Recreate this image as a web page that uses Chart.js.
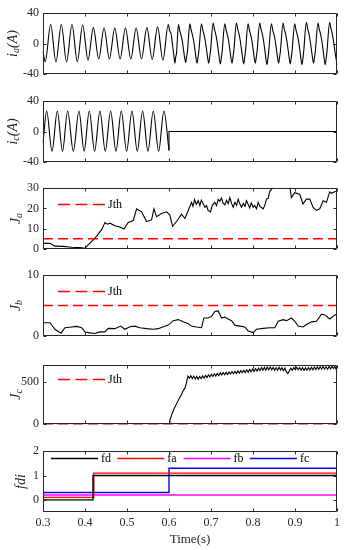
<!DOCTYPE html>
<html>
<head>
<meta charset="utf-8">
<script src="https://cdn.jsdelivr.net/npm/chart.js@4.4.1/dist/chart.umd.min.js"></script>
<style>
  html, body { margin: 0; padding: 0; background: #fff; }
  body { position: relative; width: 349px; height: 550px; overflow: hidden; }
  .panel { position: absolute; left: 0; }
</style>
</head>
<body>
<script>
// ---- values ----
const xTicks = [0.3, 0.4, 0.5, 0.6, 0.7, 0.8, 0.9, 1.0];
const iaTicks = [-40, 0, 40];
const icTicks = [-40, 0, 40];
const jaTicks = [0, 10, 20, 30];
const jbTicks = [0, 10];
const jcTicks = [0, 500];
const fdiTicks = [0, 1, 2];

const jThA = 5, jThB = 5, jThC = 0;

// [time (s), current (A)]
const iaSeries = [
  [0.300,-10],[0.3053,-24],[0.3182,25],[0.3308,-24.5],[0.3435,25],[0.3562,-24.5],[0.3690,25],
  [0.3817,-24],[0.3944,24.5],[0.4072,-22],[0.4199,21],[0.4326,-20.5],[0.4454,20.5],[0.4581,-20.5],
  [0.4709,20.5],[0.4836,-20.5],[0.4963,20.5],[0.5091,-20.5],[0.5218,20.5],[0.5345,-20.5],[0.5473,21],
  [0.5600,-21],[0.5728,22],[0.5855,-22],[0.5982,25],
  [0.6020,16],[0.6045,14],[0.6080,0],[0.6115,-15],[0.6140,-26],[0.6160,-18],[0.6180,-12],
  [0.6225,25],[0.6255,17],[0.6280,12],[0.6315,4],[0.6355,-12],[0.6397,-25],[0.6420,-17],[0.6440,-10],
  [0.6496,26],[0.6526,18],[0.6551,13],[0.6586,4],[0.6626,-12],[0.6668,-26],[0.6691,-18],[0.6711,-10],
  [0.6773,26],[0.6803,18],[0.6828,13],[0.6863,4],[0.6903,-12],[0.6945,-26],[0.6968,-18],[0.6988,-10],
  [0.7051,27],[0.7081,19],[0.7106,14],[0.7141,4],[0.7181,-12],[0.7223,-27],[0.7246,-19],[0.7266,-10],
  [0.7328,26],[0.7358,18],[0.7383,13],[0.7418,4],[0.7458,-12],[0.7500,-26],[0.7523,-18],[0.7543,-10],
  [0.7606,27],[0.7636,19],[0.7661,14],[0.7696,4],[0.7736,-12],[0.7778,-27],[0.7801,-19],[0.7821,-10],
  [0.7883,26],[0.7913,18],[0.7938,13],[0.7973,4],[0.8013,-12],[0.8055,-26],[0.8078,-18],[0.8098,-10],
  [0.8160,27],[0.8190,19],[0.8215,14],[0.8250,4],[0.8290,-12],[0.8332,-28],[0.8355,-20],[0.8375,-10],
  [0.8438,26],[0.8468,18],[0.8493,13],[0.8528,4],[0.8568,-12],[0.8610,-26],[0.8633,-18],[0.8653,-10],
  [0.8715,27],[0.8745,19],[0.8770,14],[0.8805,4],[0.8845,-12],[0.8887,-27],[0.8910,-19],[0.8930,-10],
  [0.8993,26],[0.9023,18],[0.9048,13],[0.9083,4],[0.9123,-12],[0.9165,-28],[0.9188,-20],[0.9208,-10],
  [0.9270,28],[0.9300,20],[0.9325,15],[0.9360,4],[0.9400,-12],[0.9442,-26],[0.9465,-18],[0.9485,-10],
  [0.9547,27],[0.9577,19],[0.9602,14],[0.9637,4],[0.9677,-12],[0.9719,-28],[0.9742,-20],[0.9762,-10],
  [0.9825,28],[0.9855,20],[0.9880,15],[0.9915,4],[0.9955,-12],[1.0,-28]
];

const icWave = [
  [0.3,-15],[0.3087,27],[0.3214,-26],[0.3341,27],[0.3464,-26],[0.3587,27],[0.3722,-26],[0.3856,27],
  [0.3979,-26],[0.4102,27],[0.4229,-26],[0.4356,27],[0.4483,-26],[0.4610,27],[0.4737,-26],[0.4864,27],
  [0.4991,-26],[0.5118,27],[0.5245,-26],[0.5372,27],[0.5499,-26],[0.5626,27],[0.5753,-26],[0.5879,27],
  [0.6,-25]
];
const icOff = [[0.6,-25],[0.6,0],[1.0,0]];

const jaSeries = [
  [0.3,2.7],[0.3167,2.7],[0.3285,1.3],[0.3484,1.2],[0.3682,0.8],[0.388,0.6],[0.4,0.3],[0.4055,1.6],
  [0.4158,3.5],[0.4277,6.3],[0.4396,9.5],[0.4475,13],[0.4535,12.2],[0.4594,12.7],[0.4713,11.4],
  [0.4832,10.8],[0.4927,9.8],[0.503,13],[0.5149,14],[0.5228,19.8],[0.5347,18.3],[0.5466,13.5],
  [0.5585,14.3],[0.5641,19.8],[0.5704,15.9],[0.5823,17.5],[0.5942,18.3],[0.6021,16.7],[0.6085,11.1],
  [0.618,13.5],[0.6299,17.1],[0.6378,15],[0.6458,19],[0.6537,23],[0.657,21],[0.661,24.3],[0.665,22],
  [0.6695,23.8],[0.6735,21.5],[0.677,24.1],[0.681,22.5],[0.6855,20.5],[0.6894,21.4],[0.693,19],
  [0.6989,18.3],[0.703,21.5],[0.7092,23],[0.713,21.3],[0.7172,24.5],[0.7211,23.5],[0.725,25.2],
  [0.729,22.5],[0.733,21.8],[0.737,24],[0.741,22.3],[0.7449,25.4],[0.749,22.5],[0.7528,20.6],
  [0.757,23],[0.761,21.5],[0.7647,24.6],[0.769,22],[0.7728,20.6],[0.777,22.5],[0.781,21],[0.7845,23.8],
  [0.7885,22],[0.792,20.2],[0.796,22.8],[0.8004,20.6],[0.804,21.5],[0.8083,19.8],[0.8123,23],
  [0.8162,21],[0.8242,19.8],[0.8281,21.5],[0.8321,24.6],[0.836,25],[0.84,28.6],[0.8439,29.4],
  [0.848,32],[0.87,34],[0.8874,31],[0.8914,25.4],[0.8993,27.8],[0.9112,27],[0.919,22.2],[0.927,24.6],
  [0.935,24.6],[0.943,20.6],[0.951,19],[0.959,19.8],[0.967,23.8],[0.975,23],[0.9825,28.2],
  [0.9865,27.5],[0.9943,28.2],[1.0,28.5]
];

const jbSeries = [
  [0.3,2.15],[0.3167,2.15],[0.3285,1.07],[0.3428,0.43],[0.3523,1.34],[0.3682,1.45],[0.3801,1.55],
  [0.392,1.34],[0.4,0.64],[0.4118,0.48],[0.4237,0.37],[0.4356,0.64],[0.4475,0.64],[0.4554,1.23],
  [0.4713,1.18],[0.4848,1.6],[0.4951,1.07],[0.507,1.5],[0.5189,1.6],[0.5308,1.34],[0.5466,1.18],
  [0.5625,1.07],[0.5744,1.18],[0.5863,1.5],[0.5982,1.76],[0.6101,2.5],[0.622,2.67],[0.6339,2.3],
  [0.6458,1.98],[0.6537,1.6],[0.6656,1.45],[0.6775,1.34],[0.683,2.94],[0.6933,2.94],[0.7013,3.2],
  [0.7092,4.0],[0.7171,4.1],[0.7251,2.94],[0.733,3.1],[0.7409,2.78],[0.7489,2.5],[0.7568,1.76],
  [0.7687,1.6],[0.7806,1.45],[0.7885,0.8],[0.8004,0.53],[0.8083,1.07],[0.8242,1.23],[0.84,1.34],
  [0.8519,1.34],[0.8599,2.4],[0.8718,2.67],[0.8797,2.5],[0.8916,2.94],[0.8995,2.4],[0.9074,1.6],
  [0.9193,1.45],[0.9273,1.87],[0.9392,2.3],[0.9511,2.4],[0.963,3.57],[0.9709,3.45],[0.9828,2.78],
  [0.9947,3.45],[1.0,3.57]
];

const jcSeries = [
  [0.3,0],[0.6,0],[0.602,40],[0.608,130],[0.613,190],[0.618,241],[0.624,300],[0.630,352],[0.634,400],
  [0.638,426],[0.642,500],[0.645,570],[0.6485,545],[0.652,575],[0.6555,540],[0.659,570],[0.6625,535],
  [0.666,565],[0.6695,532],[0.673,565],[0.6765,538],[0.680,572],[0.6835,545],[0.687,580],[0.6905,552],
  [0.694,585],[0.6975,560],[0.701,592],[0.7045,565],[0.708,598],[0.7115,570],[0.715,602],[0.7185,575],
  [0.722,608],[0.7255,582],[0.729,612],[0.7325,585],[0.736,615],[0.7395,590],[0.743,620],[0.7465,595],
  [0.750,625],[0.7535,598],[0.757,628],[0.7605,600],[0.764,632],[0.7675,605],[0.771,636],[0.7745,610],
  [0.778,640],[0.7815,612],[0.785,645],[0.7885,615],[0.792,650],[0.7955,620],[0.799,655],[0.8025,625],
  [0.806,660],[0.8095,630],[0.813,665],[0.8165,635],[0.820,672],[0.8235,640],[0.827,675],[0.8305,640],
  [0.834,678],[0.8375,645],[0.841,680],[0.8445,645],[0.848,675],[0.8515,640],[0.855,672],[0.8585,640],
  [0.862,675],[0.8655,642],[0.869,670],[0.8725,635],[0.876,665],[0.8795,620],[0.883,600],[0.8865,635],
  [0.890,665],[0.8935,640],[0.897,672],[0.9005,645],[0.904,675],[0.9075,645],[0.911,672],[0.9145,640],
  [0.918,670],[0.9215,638],[0.925,668],[0.9285,640],[0.932,672],[0.9355,642],[0.939,675],[0.9425,645],
  [0.946,678],[0.9495,648],[0.953,680],[0.9565,650],[0.960,682],[0.9635,652],[0.967,685],[0.9705,655],
  [0.974,682],[0.9775,650],[0.981,685],[0.9845,655],[0.988,688],[0.9915,660],[0.995,685],[1.0,625]
];

const fdSeries = [[0.3,0],[0.419,0],[0.419,1],[1.0,1]];
const faSeries = [[0.3,0.1],[0.421,0.1],[0.421,1.1],[1.0,1.1]];
const fbSeries = [[0.3,0.2],[1.0,0.2]];
const fcSeries = [[0.3,0.3],[0.6,0.3],[0.6,1.3],[1.0,1.3]];

// ---- helpers ----
Chart.defaults.font.family = "'Liberation Serif', 'Times New Roman', serif";
Chart.defaults.font.size = 12;
Chart.defaults.color = '#262626';

const SERIF = "'Liberation Serif', 'Times New Roman', serif";
const pts = arr => arr.map(p => ({x: p[0], y: p[1]}));
const flat = v => [[0.3, v], [1.0, v]];

function trace(data, smooth) {
  return { data: pts(data), borderColor: '#000', borderWidth: 1.1, pointRadius: 0,
           tension: 0, cubicInterpolationMode: smooth ? 'monotone' : 'default', clip: 0.5 };
}
function threshold(v) {
  return { label: 'Jth', data: pts(flat(v)), borderColor: '#ff0000', borderWidth: 1.5,
           borderDash: [10, 5], pointRadius: 0, clip: false };
}
function flag(label, data, color) {
  return { label: label, data: pts(data), borderColor: color, borderWidth: 1.4, pointRadius: 0, clip: false };
}

// box + inward ticks on all four sides, like a MATLAB axes
const matlabAxes = {
  id: 'matlabAxes',
  afterDraw(chart) {
    const p = chart.canvas.$panel;
    const {ctx, chartArea: a, scales} = chart;
    const L = Math.round(a.left) + 0.5, R = Math.round(a.right) - 0.5;
    const T = Math.round(a.top) + 0.5, B = Math.round(a.bottom) - 0.5;
    ctx.save();
    ctx.strokeStyle = '#262626';
    ctx.lineWidth = 1;
    ctx.beginPath();
    ctx.rect(L, T, R - L, B - T);
    xTicks.forEach(v => {
      const px = Math.round(scales.x.getPixelForValue(v)) + 0.5;
      ctx.moveTo(px, B); ctx.lineTo(px, B - 3);
      ctx.moveTo(px, T); ctx.lineTo(px, T + 3);
    });
    p.yTicks.forEach(v => {
      const py = Math.round(scales.y.getPixelForValue(v)) + 0.5;
      ctx.moveTo(L, py); ctx.lineTo(L + 3, py);
      ctx.moveTo(R, py); ctx.lineTo(R - 3, py);
    });
    ctx.stroke();
    ctx.restore();
  }
};

// legend drawn inside the plot area
const insideLegend = {
  id: 'insideLegend',
  afterDraw(chart) {
    const lg = chart.canvas.$panel.legend;
    if (!lg) return;
    const {ctx, chartArea: a} = chart;
    let k = 0;
    chart.data.datasets.forEach(ds => {
      if (!ds.label) return;
      const x0 = a.left + lg.x + k * (lg.step || 0);
      const y0 = Math.round(a.top + lg.y) + 0.5;
      ctx.save();
      ctx.strokeStyle = ds.borderColor;
      ctx.lineWidth = ds.borderWidth;
      ctx.setLineDash(ds.borderDash ? lg.dash : []);
      ctx.beginPath();
      ctx.moveTo(x0, y0);
      ctx.lineTo(x0 + lg.len, y0);
      ctx.stroke();
      ctx.setLineDash([]);
      ctx.fillStyle = '#000';
      ctx.font = lg.font + 'px ' + SERIF;
      ctx.textBaseline = 'middle';
      ctx.fillText(ds.label, x0 + lg.len + 3, y0 + 0.5);
      ctx.restore();
      k++;
    });
  }
};

// rotated y label with subscripts
const yLabel = {
  id: 'yLabel',
  afterDraw(chart) {
    const p = chart.canvas.$panel;
    const {ctx, chartArea: a} = chart;
    const main = 'italic 14px ' + SERIF, sub = 'italic 10px ' + SERIF;
    ctx.save();
    ctx.translate(p.yLabelX, (a.top + a.bottom) / 2);
    ctx.rotate(-Math.PI / 2);
    ctx.fillStyle = '#262626';
    ctx.textBaseline = 'middle';
    let w = 0;
    p.yLabel.forEach(part => { ctx.font = part[1] ? sub : main; w += ctx.measureText(part[0]).width; });
    let x = -w / 2;
    p.yLabel.forEach(part => {
      ctx.font = part[1] ? sub : main;
      ctx.fillText(part[0], x, part[1] ? 3 : 0);
      x += ctx.measureText(part[0]).width;
    });
    ctx.restore();
  }
};

function makePanel(p) {
  const padTop = 10, padBottom = p.xLabels ? 38 : 10;
  const h = (p.bottom - p.top) + padTop + padBottom;
  const wrap = document.createElement('div');
  wrap.className = 'panel';
  wrap.style.top = (p.top - padTop) + 'px';
  const cv = document.createElement('canvas');
  cv.width = 349; cv.height = h;
  cv.style.width = '349px'; cv.style.height = h + 'px';
  cv.$panel = p;
  wrap.appendChild(cv);
  document.body.appendChild(wrap);
  return new Chart(cv, {
    type: 'line',
    data: { datasets: p.datasets },
    plugins: [matlabAxes, insideLegend, yLabel],
    options: {
      responsive: false,
      animation: false,
      devicePixelRatio: 1,
      layout: { padding: { top: padTop, right: 12, bottom: p.xLabels ? 0 : padBottom, left: 0 } },
      scales: {
        x: {
          type: 'linear', min: 0.3, max: 1.0, display: !!p.xLabels,
          afterBuildTicks: s => { s.ticks = xTicks.map(v => ({value: v})); },
          afterFit: s => { s.height = p.xLabels ? padBottom : 0; },
          grid: { display: false, drawTicks: false },
          border: { display: false },
          ticks: { padding: 4, maxRotation: 0, autoSkip: false, font: { size: 12 },
                   callback: v => v === 1 ? '1' : v.toFixed(1) },
          title: { display: !!p.xLabels, text: 'Time(s)', font: { size: 13 }, padding: { top: 0, bottom: 3 } }
        },
        y: {
          min: p.yMin, max: p.yMax,
          afterBuildTicks: s => { s.ticks = p.yTicks.map(v => ({value: v})); },
          afterFit: s => { s.width = 43; },
          grid: { display: false, drawTicks: false },
          border: { display: false },
          ticks: { padding: 4, autoSkip: false, font: { size: 12 }, callback: v => String(v) }
        }
      },
      plugins: { legend: { display: false }, tooltip: { enabled: false } }
    }
  });
}

const jLegend = { x: 15, y: 16, len: 47, dash: [12, 5.5], font: 12 };

makePanel({ top: 12, bottom: 75, yMin: -40, yMax: 40, yTicks: iaTicks,
  yLabel: [['i', 0], ['a', 1], ['(A)', 0]], yLabelX: 13,
  datasets: [trace(iaSeries, true)] });

makePanel({ top: 100, bottom: 163, yMin: -40, yMax: 40, yTicks: icTicks,
  yLabel: [['i', 0], ['c', 1], ['(A)', 0]], yLabelX: 13,
  datasets: [trace(icWave, true), trace(icOff, false)] });

makePanel({ top: 187, bottom: 250, yMin: 0, yMax: 30, yTicks: jaTicks,
  yLabel: [['J', 0], ['a', 1]], yLabelX: 16, legend: jLegend,
  datasets: [threshold(jThA), trace(jaSeries, false)] });

makePanel({ top: 274, bottom: 337, yMin: 0, yMax: 10, yTicks: jbTicks,
  yLabel: [['J', 0], ['b', 1]], yLabelX: 16, legend: jLegend,
  datasets: [threshold(jThB), trace(jbSeries, false)] });

makePanel({ top: 364, bottom: 425, yMin: 0, yMax: 700, yTicks: jcTicks,
  yLabel: [['J', 0], ['c', 1]], yLabelX: 16, legend: Object.assign({}, jLegend, { y: 14 }),
  datasets: [threshold(jThC), trace(jcSeries, false)] });

makePanel({ top: 450, bottom: 512, yMin: -0.5, yMax: 2, yTicks: fdiTicks, xLabels: true,
  yLabel: [['fdi', 0]], yLabelX: 21, legend: { x: 8, y: 7, step: 66.3, len: 47, font: 12 },
  datasets: [flag('fd', fdSeries, '#000000'), flag('fa', faSeries, '#ff0000'),
             flag('fb', fbSeries, '#ff00ff'), flag('fc', fcSeries, '#0000ff')] });
</script>
</body>
</html>
